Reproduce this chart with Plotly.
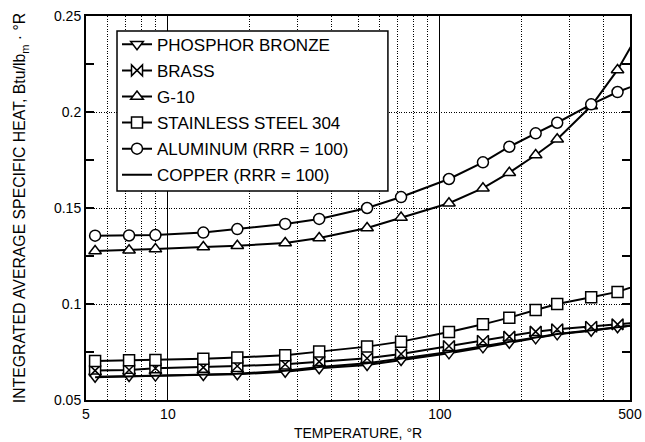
import plotly.graph_objects as go

# Temperatures (°R) of the data points (last point lies beyond the axis and is clipped)
temps = [5.4, 7.2, 9, 13.5, 18, 27, 36, 54, 72, 108, 144, 180, 225, 270, 360, 450, 540]

phosphor_bronze = [0.0621, 0.0625, 0.0627, 0.0630, 0.0634, 0.0647, 0.0665, 0.0682, 0.0708,
                   0.0743, 0.0774, 0.0798, 0.0821, 0.0842, 0.0861, 0.0879, 0.0893]
brass = [0.0653, 0.0656, 0.0665, 0.0670, 0.0677, 0.0686, 0.0700, 0.0717, 0.0740,
         0.0781, 0.0809, 0.0830, 0.0856, 0.0868, 0.0882, 0.0894, 0.0904]
g10 = [0.1276, 0.1280, 0.1286, 0.1297, 0.1303, 0.1318, 0.1344, 0.1396, 0.1450,
       0.1525, 0.1603, 0.1684, 0.1776, 0.1858, 0.2031, 0.2219, 0.2415]
stainless = [0.0703, 0.0707, 0.0708, 0.0715, 0.0722, 0.0733, 0.0752, 0.0778, 0.0804,
             0.0854, 0.0894, 0.0929, 0.0969, 0.1000, 0.1035, 0.1063, 0.1101]
aluminum = [0.1356, 0.1357, 0.1359, 0.1372, 0.1390, 0.1417, 0.1443, 0.1500, 0.1557,
            0.1651, 0.1738, 0.1819, 0.1889, 0.1944, 0.2040, 0.2104, 0.2147]
copper = [0.0618, 0.0622, 0.0625, 0.0630, 0.0637, 0.0652, 0.0672, 0.0692, 0.0716,
          0.0750, 0.0780, 0.0802, 0.0824, 0.0844, 0.0863, 0.0880, 0.0893]

names = ["PHOSPHOR BRONZE", "BRASS", "G-10", "STAINLESS STEEL 304",
         "ALUMINUM (RRR = 100)", "COPPER (RRR = 100)"]
series = [phosphor_bronze, brass, g10, stainless, aluminum, copper]
symbols = ["triangle-down", "bowtie", "triangle-up", "square", "circle", None]

x_ticks = [5, 10, 100, 500]
x_minor = [6, 7, 8, 9, 20, 30, 40, 50, 60, 70, 80, 90, 200, 300, 400]
y_ticks = [0.05, 0.10, 0.15, 0.20, 0.25]
y_tick_text = ["0.05", "0.1", "0.15", "0.2", "0.25"]

FONT = "Arial, 'Liberation Sans', sans-serif"
DOTS = "1px,1.5px"

fig = go.Figure()
for i, (name, ys, sym) in enumerate(zip(names, series, symbols)):
    if sym is None:
        fig.add_trace(go.Scatter(x=temps, y=ys, name=name, mode="lines",
                                 line=dict(color="black", width=2),
                                 legendgroup=str(i)))
    else:
        fig.add_trace(go.Scatter(x=temps, y=ys, name=name, mode="lines+markers",
                                 line=dict(color="black", width=2),
                                 marker=dict(symbol=sym, size=11, color="white",
                                             line=dict(color="black", width=1.5)),
                                 legendgroup=str(i)))

# legend frame (white box with black border) drawn above the grid
fig.add_shape(type="rect", xref="paper", yref="paper",
              x0=0.057, x1=0.555, y0=0.544, y1=0.961,
              fillcolor="white", line=dict(color="black", width=1.5),
              layer="above")

fig.update_layout(
    width=645, height=442,
    margin=dict(l=86, r=15, t=16, b=42),
    plot_bgcolor="white", paper_bgcolor="white",
    font=dict(family=FONT, size=14, color="black"),
    showlegend=True,
    legend=dict(x=0.057, y=0.972, xanchor="left", yanchor="top",
                bgcolor="rgba(0,0,0,0)", borderwidth=0,
                font=dict(family=FONT, size=17, color="black"),
                tracegroupgap=1, itemwidth=30),
    xaxis=dict(type="log", range=[0.69897, 2.69897], automargin=False,
               tickvals=x_ticks, ticktext=[str(v) for v in x_ticks],
               ticks="", showgrid=True, gridcolor="black", gridwidth=1,
               minor=dict(tickvals=x_minor, showgrid=True, gridcolor="black",
                          griddash=DOTS, gridwidth=1, ticks=""),
               showline=True, linecolor="black", linewidth=2, mirror=True,
               zeroline=False,
               title=dict(text="TEMPERATURE, °R", standoff=7,
                          font=dict(family=FONT, size=14)),
               tickfont=dict(family=FONT, size=14)),
    yaxis=dict(range=[0.05, 0.25], tickvals=y_ticks, ticktext=y_tick_text,
               automargin=False,
               ticks="inside", ticklen=8, tickwidth=1.5, tickcolor="black",
               showgrid=True, gridcolor="black", griddash=DOTS, gridwidth=1,
               minor=dict(dtick=0.025, tick0=0.025, ticks="inside", ticklen=8,
                          tickwidth=1.5, tickcolor="black", showgrid=False),
               showline=True, linecolor="black", linewidth=2, mirror="ticks",
               zeroline=False,
               title=dict(text="INTEGRATED AVERAGE SPECIFIC HEAT, Btu/lb<sub>m</sub> · °R",
                          standoff=24, font=dict(family=FONT, size=15.8)),
               tickfont=dict(family=FONT, size=14)),
)

fig.write_html("out.html")
